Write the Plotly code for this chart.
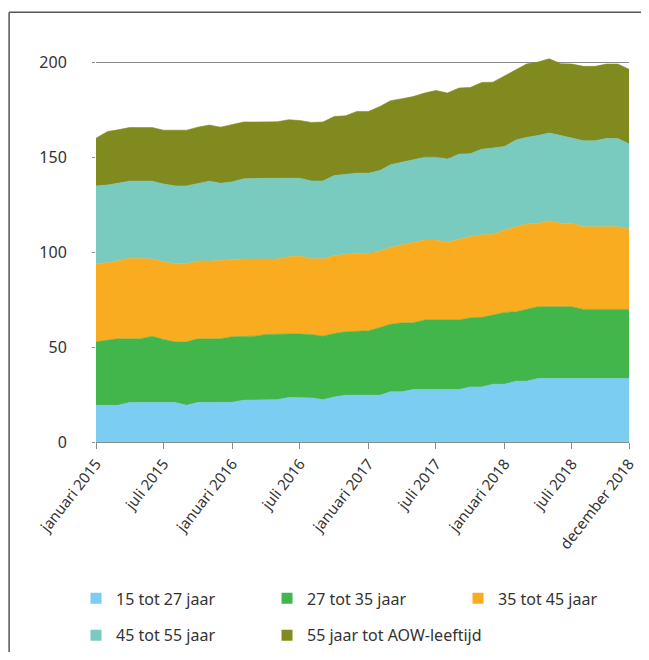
import plotly.graph_objects as go
import pandas as pd

months = pd.date_range("2015-01-01", "2018-12-01", freq="MS")

tick_dates = ["2015-01-01", "2015-07-01", "2016-01-01", "2016-07-01", "2017-01-01",
              "2017-07-01", "2018-01-01", "2018-07-01", "2018-12-01"]
tick_labels = ["januari 2015", "juli 2015", "januari 2016", "juli 2016", "januari 2017",
               "juli 2017", "januari 2018", "juli 2018", "december 2018"]

series_names = ["15 tot 27 jaar", "27 tot 35 jaar", "35 tot 45 jaar",
                "45 tot 55 jaar", "55 jaar tot AOW-leeftijd"]

age_15_27 = [19.3, 19.3, 19.3, 20.8, 20.8, 20.8, 20.8, 20.8, 19.3, 20.8, 20.8, 20.8,
             20.9, 22.0, 22.0, 22.0, 22.3, 23.4, 23.4, 23.2, 22.3, 23.7, 24.6, 24.6,
             24.6, 24.6, 26.4, 26.4, 27.6, 27.6, 27.6, 27.6, 27.6, 29.0, 29.0, 30.4,
             30.4, 32.0, 32.0, 33.4, 33.4, 33.4, 33.4, 33.4, 33.4, 33.4, 33.4, 33.4]
age_27_35 = [33.4, 34.3, 35.0, 33.5, 33.5, 34.9, 33.2, 31.9, 33.4, 33.5, 33.5, 33.5,
             34.5, 33.7, 33.7, 34.6, 34.5, 33.4, 33.4, 33.4, 33.4, 33.4, 33.4, 33.8,
             33.9, 35.7, 35.6, 36.3, 35.1, 36.6, 36.6, 36.6, 36.6, 36.4, 36.6, 36.4,
             37.8, 36.5, 37.8, 37.8, 37.8, 37.8, 37.8, 36.4, 36.4, 36.4, 36.4, 36.4]
age_35_45 = [41.1, 40.8, 41.1, 42.4, 42.4, 40.6, 40.9, 41.1, 41.1, 41.0, 41.0, 41.3,
             40.9, 40.6, 40.6, 39.7, 39.5, 40.7, 41.1, 39.9, 40.8, 41.0, 40.8, 40.9,
             40.8, 40.2, 40.5, 41.0, 42.2, 42.1, 42.1, 40.9, 42.5, 42.7, 43.5, 42.5,
             43.4, 44.8, 45.0, 43.9, 45.1, 43.9, 43.9, 43.5, 43.5, 43.5, 43.5, 42.3]
age_45_55 = [41.0, 40.9, 40.8, 40.6, 40.6, 41.0, 40.9, 41.0, 41.0, 40.9, 42.0, 40.6,
             40.6, 42.2, 42.5, 42.5, 42.5, 41.3, 40.9, 40.9, 40.9, 42.1, 42.2, 42.2,
             42.2, 42.4, 43.4, 43.4, 43.6, 43.6, 43.6, 43.8, 44.8, 43.6, 45.0, 45.4,
             43.9, 45.7, 45.5, 46.2, 46.3, 46.2, 44.9, 45.2, 45.2, 46.4, 46.4, 44.8]
age_55_aow = [25.1, 28.1, 28.1, 28.2, 28.2, 28.2, 28.3, 29.3, 29.3, 29.5, 29.5, 29.5,
              30.0, 29.9, 29.6, 29.6, 29.7, 30.8, 30.4, 30.8, 31.0, 31.1, 30.7, 32.5,
              32.5, 33.7, 33.7, 33.6, 33.3, 33.8, 35.1, 34.8, 34.8, 34.9, 35.1, 34.7,
              37.3, 37.0, 38.6, 38.7, 39.1, 37.8, 38.9, 39.2, 39.2, 39.2, 39.2, 39.3]

y_ticks = [0, 50, 100, 150, 200]

colors = ["#7BCDF2", "#42B54B", "#F9AC20", "#79CBBF", "#818A1E"]
series = [age_15_27, age_27_35, age_35_45, age_45_55, age_55_aow]
legend_ids = ["legend", "legend", "legend", "legend2", "legend3"]

FONT = "Noto Sans"
TXT = "#333333"

fig = go.Figure()
for name, vals, col in zip(series_names, series, colors):
    fig.add_trace(go.Scatter(
        x=months, y=vals, name=name, stackgroup="one", mode="lines",
        line=dict(width=0.6, color=col), fillcolor=col, showlegend=False,
        hoverinfo="x+y+name"))

# legend entries (square swatches)
for name, col, lid in zip(series_names, colors, legend_ids):
    fig.add_trace(go.Scatter(
        x=[None], y=[None], mode="markers", name=name,
        marker=dict(symbol="square", size=11, color=col), legend=lid))


def leg(x, y, ew):
    return dict(x=x, y=y, orientation="h", xanchor="left", yanchor="middle",
                traceorder="normal",
                font=dict(family=FONT, size=16, color=TXT),
                entrywidth=ew, entrywidthmode="pixels",
                bgcolor="rgba(0,0,0,0)", itemwidth=30)


LX = -0.0375
COL = 191 / 533

# page body adds an 8px offset; the figure is sized to fit the window
fig.update_layout(
    width=633, height=644,
    margin=dict(l=88, r=12, t=35, b=210, autoexpand=False),
    paper_bgcolor="white", plot_bgcolor="white",
    font=dict(family=FONT, size=15, color=TXT),
    legend=leg(LX, -0.392, 146),
    legend2=leg(LX, -0.4845, 146),
    legend3=leg(LX + COL, -0.4845, 220),
    xaxis=dict(
        type="date", range=["2015-01-01", "2018-12-01"],
        tickvals=tick_dates, ticktext=tick_labels, tickangle=-52,
        showgrid=False, zeroline=False, automargin=False,
        showline=True, linecolor="#8a8a8a", linewidth=1,
        ticks="outside", ticklen=6, tickcolor="#8a8a8a",
        tickfont=dict(family=FONT, size=15, color=TXT)),
    yaxis=dict(
        range=[0, 210], tickvals=y_ticks, automargin=False,
        showgrid=True, gridcolor="#8a8a8a", gridwidth=1,
        zeroline=False, showline=False,
        ticks="outside", ticklen=3, tickcolor="#8a8a8a",
        ticklabelstandoff=22,
        tickfont=dict(family=FONT, size=16, color=TXT)),
    shapes=[
        dict(type="line", xref="paper", yref="paper", x0=-0.163, x1=1.03,
             y0=1.077, y1=1.077, line=dict(color="#555555", width=1.5)),
        dict(type="line", xref="paper", yref="paper", x0=-0.163, x1=-0.163,
             y0=1.077, y1=-0.53, line=dict(color="#555555", width=1.5)),
    ],
    hovermode="x unified",
)

fig.write_html("out.html")
